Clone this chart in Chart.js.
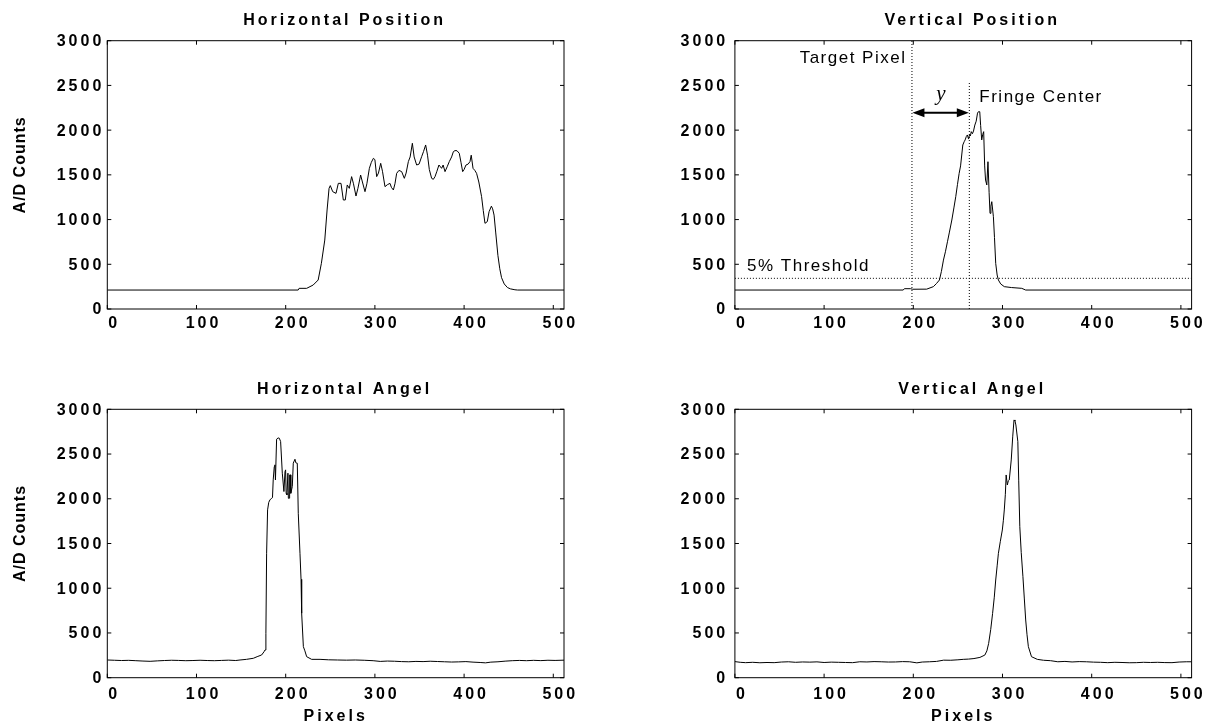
<!DOCTYPE html>
<html>
<head>
<meta charset="utf-8">
<title>Fringe profiles</title>
<script src="https://cdn.jsdelivr.net/npm/chart.js@4.4.1/dist/chart.umd.min.js"></script>
<style>
    html, body { margin: 0; padding: 0; background: #fff; }
    #page { position: relative; width: 1211px; height: 725px; overflow: hidden; background: #fff; }
    .panel { position: absolute; }
    .panel canvas { display: block; }
</style>
</head>
<body>
<div id="page">
    <div class="panel" style="left:0;top:0;"><canvas id="hPosChart" width="600" height="360"></canvas></div>
    <div class="panel" style="left:600px;top:0;"><canvas id="vPosChart" width="611" height="360"></canvas></div>
    <div class="panel" style="left:0;top:360px;"><canvas id="hAngChart" width="600" height="365"></canvas></div>
    <div class="panel" style="left:600px;top:360px;"><canvas id="vAngChart" width="611" height="365"></canvas></div>
</div>
<script>
// Axis ticks
const pixelTicks = [0, 100, 200, 300, 400, 500];
const countTicks = [0, 500, 1000, 1500, 2000, 2500, 3000];
const panelTitles = ['Horizontal Position', 'Vertical Position', 'Horizontal Angel', 'Vertical Angel'];

// Horizontal Position trace
const hPosPixels = [0, 214, 215, 223.5, 230.8, 236.4, 240, 243.8, 246.4, 248.6, 250, 252.7, 256.4, 259, 262, 264.6, 266.8, 269, 271.3, 273.9,
    276, 278.8, 281, 284, 286, 288.9, 291, 293.8, 296, 298.3, 300, 302, 304, 306.5, 308.5, 311.3, 314, 316.9, 318.5, 320.7,
    322.5, 324.4, 327, 330, 333, 335, 337.5, 339.5, 342, 344, 346.8, 349.5, 352.4, 354.5, 356.9, 359, 361, 363.6, 365.5, 367.4,
    369.5, 371.8, 374.8, 376.5, 378.6, 381, 383.4, 386, 388, 389.8, 392, 394.6, 396.5, 398.4, 400, 402.1, 404.5, 406.6, 408, 410,
    412, 414, 416.5, 419.6, 421.5, 423.4, 426, 428, 430.6, 432, 433.6, 435.5, 437.9, 440, 442, 445, 448.6, 452, 457, 460, 512];
const hPosCounts = [212, 212, 231, 231, 268, 324, 511, 771, 1107, 1349, 1380, 1312, 1293, 1405, 1405, 1219, 1219, 1387, 1349, 1480,
    1400, 1263, 1350, 1498, 1420, 1312, 1400, 1573, 1640, 1685, 1670, 1480, 1520, 1629, 1540, 1368, 1390, 1405, 1360, 1331,
    1400, 1517, 1550, 1536, 1461, 1520, 1648, 1700, 1853, 1700, 1610, 1620, 1703, 1760, 1834, 1720, 1560, 1461, 1450, 1480,
    1540, 1610, 1573, 1610, 1536, 1590, 1648, 1700, 1760, 1771, 1770, 1741, 1640, 1536, 1560, 1610, 1620, 1648, 1720, 1573,
    1550, 1517, 1420, 1256, 1100, 958, 977, 1088, 1150, 1120, 1050, 850, 600, 450, 350, 280, 240, 225, 215, 212, 212];

// Vertical Position trace
const vPosPixels = [0, 188.7, 190, 197, 199, 215, 222.5, 226, 229.3, 231.5, 233.8, 236, 238.3, 240.5, 243.2, 245.5, 247.6, 249.5, 251.4, 253,
    255.5, 257, 258.1, 259.5, 260.6, 262, 263, 264, 265, 266.3, 267.5, 269, 270.5, 272, 273, 274.5, 275.5, 276.7, 277.8, 278.9,
    280, 281, 282.4, 283.7, 285, 286, 287, 288, 289.8, 291, 292.4, 294, 295.4, 298, 302, 310, 321.6, 326, 512];
const vPosCounts = [212, 212, 227, 227, 221, 222, 250, 285, 324, 420, 547, 640, 752, 860, 995, 1130, 1256, 1390, 1517, 1600,
    1834, 1870, 1890, 1930, 1946, 1900, 1950, 1935, 1983, 1960, 1990, 2057, 2100, 2190, 2206, 2206, 2050, 1890, 1950, 1983,
    1600, 1442, 1387, 1647, 1300, 1070, 1150, 1200, 1032, 800, 510, 380, 324, 280, 250, 240, 231, 212, 212];

// Horizontal Angel trace
const hAngPixels = [0, 8, 16, 24, 32, 40, 48, 56, 64, 72, 80, 88, 96, 104, 112, 120, 128, 136, 144, 148.8,
    156, 163.7, 168, 173, 175.7, 176.8, 177.8, 178.6, 179.7, 181, 182.3, 184.2, 185.2, 186, 187.2, 187.9, 188.5, 189.8, 191.5, 192.8,
    194.3, 196.2, 198, 199.2, 199.9, 200.5, 201.4, 202.5, 203, 204, 204.4, 205.5, 205.7, 207.4, 208.5, 210.4, 211.5, 212.3, 213, 214.1,
    216, 217.2, 217.9, 219.8, 221.5, 223.5, 229.1, 238.5, 248, 258, 268, 278, 288, 298, 306, 314, 322, 330, 338, 346,
    354, 362, 370, 378, 386, 394, 402, 410, 418, 424, 430, 438, 446, 454, 462, 470, 478, 486, 494, 502, 512];
const hAngCounts = [198, 195, 192, 194, 190, 186, 183, 188, 192, 195, 193, 190, 192, 195, 192, 190, 193, 196, 192, 198,
    205, 217, 235, 254, 290, 310, 496, 1391, 1876, 1960, 1987, 2006, 2013, 2211, 2359, 2379, 2210, 2666, 2680, 2677,
    2640, 2286, 2081, 2303, 2323, 2061, 2044, 2286, 2005, 2006, 2266, 2267, 2061, 2137, 2398, 2442, 2400, 2398, 2397, 1838,
    1391, 1100, 720, 347, 300, 235, 205, 205, 200, 198, 196, 198, 195, 190, 182, 186, 184, 180, 178, 182,
    180, 184, 181, 178, 175, 177, 180, 174, 170, 166, 174, 178, 185, 190, 193, 190, 194, 191, 195, 193, 196];

// Vertical Angel trace
const vAngPixels = [0, 6, 12, 20, 28, 36, 44, 52, 60, 68, 76, 84, 92, 100, 108, 116, 124, 132, 140, 148,
    156, 164, 172, 180, 188, 196, 204, 210, 218, 226, 234, 242, 250, 256, 262, 268, 274.7, 280.2, 282.5, 284.5,
    286.8, 288.9, 290.8, 292.4, 294, 295.4, 297.5, 299.8, 301, 302, 303.2, 304.1, 305.4, 306.5, 307.6, 309.8, 311.5, 312.9, 314, 315,
    317.2, 318.2, 319.4, 321, 322.9, 324.5, 326, 327.5, 329, 332.5, 339, 346, 354, 362, 370, 378, 386, 394, 402, 410,
    418, 426, 434, 442, 450, 458, 466, 474, 482, 490, 498, 506, 512];
const vAngCounts = [180, 172, 168, 172, 167, 170, 168, 175, 178, 172, 176, 174, 177, 170, 174, 172, 170, 168, 178, 176,
    180, 178, 175, 176, 180, 178, 166, 175, 178, 182, 196, 195, 200, 205, 208, 214, 227, 253, 300, 384,
    540, 719, 900, 1092, 1250, 1390, 1520, 1651, 1760, 1875, 2050, 2266, 2154, 2200, 2210, 2434, 2700, 2881, 2870, 2825,
    2639, 2200, 1688, 1400, 1129, 880, 645, 480, 347, 235, 205, 195, 190, 178, 182, 176, 180, 178, 174, 172,
    168, 172, 170, 167, 168, 172, 170, 172, 169, 168, 175, 178, 178];

// Markers on the Vertical Position panel
const TARGET_PIXEL = 198.5;
const FRINGE_CENTER = 262.8;
const FRINGE_LINE_TOP = 2530;
const THRESHOLD = 343;
const ARROW_LEVEL = 2195;

const FONT = "'Liberation Sans', Arial, Helvetica, sans-serif";
Chart.defaults.font.family = FONT;
Chart.defaults.color = '#000';

document.addEventListener('DOMContentLoaded', function() {
    initCharts();
});

function toPoints(xs, ys) {
    return xs.map((x, i) => ({ x: x, y: ys[i] }));
}

/**
 * Wide letter spacing like the original figure
 */
const spacingPlugin = {
    id: 'spacing',
    beforeUpdate(chart) { chart.ctx.letterSpacing = '3px'; },
    beforeDraw(chart) { chart.ctx.letterSpacing = '3px'; },
    afterLayout(chart) {
        // title sits a little right of the plot centre
        if (chart.titleBlock) {
            chart.titleBlock.left += 9;
            chart.titleBlock.right += 9;
        }
    }
};

/**
 * Box around the plot and inward tick marks on all sides
 */
const framePlugin = {
    id: 'frame',
    afterDatasetsDraw(chart) {
        const { ctx, chartArea: a, scales: { x, y } } = chart;
        const len = 4;
        ctx.save();
        ctx.strokeStyle = '#000';
        ctx.lineWidth = 1;
        ctx.strokeRect(a.left, a.top, a.right - a.left, a.bottom - a.top);
        ctx.beginPath();
        x.ticks.forEach(t => {
            const px = x.getPixelForValue(t.value);
            ctx.moveTo(px, a.bottom); ctx.lineTo(px, a.bottom - len);
            ctx.moveTo(px, a.top); ctx.lineTo(px, a.top + len);
        });
        y.ticks.forEach(t => {
            const py = y.getPixelForValue(t.value);
            ctx.moveTo(a.left, py); ctx.lineTo(a.left + len, py);
            ctx.moveTo(a.right, py); ctx.lineTo(a.right - len, py);
        });
        ctx.stroke();
        ctx.restore();
    }
};

function arrowHead(ctx, tipX, y, dir) {
    ctx.beginPath();
    ctx.moveTo(tipX, y);
    ctx.lineTo(tipX + dir * 12, y - 4.5);
    ctx.lineTo(tipX + dir * 12, y + 4.5);
    ctx.closePath();
    ctx.fill();
}

/**
 * Labels and the y arrow of the Vertical Position panel
 */
const fringeNotes = {
    id: 'fringeNotes',
    afterDatasetsDraw(chart) {
        const { ctx, scales: { x, y } } = chart;
        const tx = x.getPixelForValue(TARGET_PIXEL);
        const fx = x.getPixelForValue(FRINGE_CENTER);
        const ay = y.getPixelForValue(ARROW_LEVEL);

        ctx.save();
        ctx.fillStyle = '#000';
        ctx.strokeStyle = '#000';
        ctx.lineWidth = 2;
        ctx.beginPath();
        ctx.moveTo(tx + 8, ay);
        ctx.lineTo(fx - 8, ay);
        ctx.stroke();
        arrowHead(ctx, tx + 0.5, ay, 1);
        arrowHead(ctx, fx - 0.5, ay, -1);

        ctx.font = '17px ' + FONT;
        ctx.letterSpacing = '1.5px';
        ctx.textBaseline = 'middle';
        ctx.textAlign = 'right';
        ctx.fillText('Target Pixel', tx - 5.5, y.getPixelForValue(2798));
        ctx.textAlign = 'left';
        ctx.fillText('Fringe Center', fx + 10, y.getPixelForValue(2362));
        ctx.fillText('5% Threshold', x.getPixelForValue(13.6), y.getPixelForValue(473));

        ctx.font = 'italic 21px "Liberation Serif", "Times New Roman", serif';
        ctx.letterSpacing = '0px';
        ctx.textAlign = 'center';
        ctx.textBaseline = 'alphabetic';
        ctx.fillText('y', x.getPixelForValue(231), y.getPixelForValue(2337));
        ctx.restore();
    }
};

function dotted(points) {
    return {
        data: points,
        borderColor: '#000',
        borderWidth: 1,
        borderDash: [1, 2],
        pointRadius: 0,
        fill: false
    };
}

/**
 * Build one panel
 */
function buildChart(id, cfg) {
    const el = document.getElementById(id);
    const datasets = [{
        data: toPoints(cfg.xs, cfg.ys),
        borderColor: '#000',
        borderWidth: 1,
        pointRadius: 0,
        tension: 0,
        fill: false
    }].concat(cfg.extra || []);

    return new Chart(el, {
        type: 'line',
        data: { datasets: datasets },
        options: {
            responsive: false,
            animation: false,
            events: [],
            layout: { padding: { left: 0, right: cfg.padRight, top: 0, bottom: 0 } },
            plugins: {
                legend: { display: false },
                tooltip: { enabled: false },
                title: {
                    display: true,
                    text: cfg.title,
                    fullSize: false,
                    color: '#000',
                    font: { size: 16, weight: 'bold' },
                    padding: cfg.titlePad
                }
            },
            scales: {
                x: {
                    type: 'linear',
                    min: 0,
                    max: 512,
                    grid: { display: false, drawTicks: false },
                    border: { display: false },
                    ticks: {
                        font: { size: 16, weight: 'bold' },
                        color: '#000',
                        padding: cfg.xTickPad,
                        labelOffset: 7,
                        maxRotation: 0,
                        autoSkip: false,
                        callback: v => String(v)
                    },
                    afterBuildTicks: s => { s.ticks = pixelTicks.map(v => ({ value: v })); },
                    afterFit: s => { s.height = cfg.xAxisHeight; },
                    title: {
                        display: !!cfg.xTitle,
                        text: cfg.xTitle || '',
                        color: '#000',
                        font: { size: 16, weight: 'bold' },
                        padding: { top: 0, bottom: -1 }
                    }
                },
                y: {
                    type: 'linear',
                    min: 0,
                    max: 3000,
                    grid: { display: false, drawTicks: false },
                    border: { display: false },
                    ticks: {
                        font: { size: 16, weight: 'bold' },
                        color: '#000',
                        padding: cfg.yTickPad,
                        labelOffset: 1,
                        autoSkip: false,
                        callback: v => String(v)
                    },
                    afterBuildTicks: s => { s.ticks = countTicks.map(v => ({ value: v })); },
                    afterFit: s => {
                        s.width = cfg.yAxisWidth;
                        if (!s._spacedTitle) {
                            s._spacedTitle = true;
                            s.drawTitle = function() {
                                const c = this.ctx;
                                c.save();
                                c.letterSpacing = '1px';
                                c.translate(0, -10);
                                Chart.LinearScale.prototype.drawTitle.call(this);
                                c.restore();
                            };
                        }
                    },
                    title: {
                        display: !!cfg.yTitle,
                        text: cfg.yTitle || '',
                        color: '#000',
                        font: { size: 16, weight: 'bold' },
                        padding: { top: 10.8, bottom: 0 }
                    }
                }
            }
        },
        plugins: [spacingPlugin, framePlugin].concat(cfg.plugins || [])
    });
}

function initCharts() {
    const topPad = { top: 11.2, bottom: 10.3 };
    const bottomPad = { top: 20.4, bottom: 9.7 };

    buildChart('hPosChart', {
        title: panelTitles[0], xs: hPosPixels, ys: hPosCounts,
        yTitle: 'A/D Counts', yAxisWidth: 107.3, padRight: 36,
        titlePad: topPad, xAxisHeight: 51, xTickPad: 5, yTickPad: 3
    });

    buildChart('vPosChart', {
        title: panelTitles[1], xs: vPosPixels, ys: vPosCounts,
        yAxisWidth: 134.9, padRight: 19.4,
        titlePad: topPad, xAxisHeight: 51, xTickPad: 5, yTickPad: 6.7,
        extra: [
            dotted([{ x: TARGET_PIXEL, y: 0 }, { x: TARGET_PIXEL, y: 3000 }]),
            dotted([{ x: FRINGE_CENTER, y: 0 }, { x: FRINGE_CENTER, y: FRINGE_LINE_TOP }]),
            dotted([{ x: 0, y: THRESHOLD }, { x: 512, y: THRESHOLD }])
        ],
        plugins: [fringeNotes]
    });

    buildChart('hAngChart', {
        title: panelTitles[2], xs: hAngPixels, ys: hAngCounts,
        yTitle: 'A/D Counts', xTitle: 'Pixels', yAxisWidth: 107.3, padRight: 36,
        titlePad: bottomPad, xAxisHeight: 47.3, xTickPad: 7, yTickPad: 3
    });

    buildChart('vAngChart', {
        title: panelTitles[3], xs: vAngPixels, ys: vAngCounts,
        xTitle: 'Pixels', yAxisWidth: 134.9, padRight: 19.4,
        titlePad: bottomPad, xAxisHeight: 47.3, xTickPad: 7, yTickPad: 6.7
    });
}
</script>
</body>
</html>
